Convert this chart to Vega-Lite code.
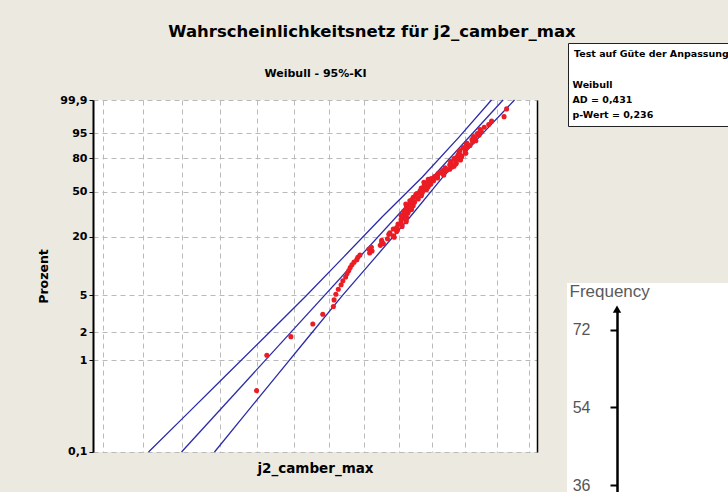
{
  "$schema": "https://vega.github.io/schema/vega-lite/v6.json",
  "width": 444,
  "height": 352,
  "autosize": {"type": "none"},
  "padding": {"left": 93, "top": 100, "right": 191, "bottom": 40},
  "background": "#ECE9E1",
  "config": {
    "view": {"fill": "white", "stroke": null},
    "font": "DejaVu Sans",
    "axis": {"labelFont": "DejaVu Sans", "titleFont": "DejaVu Sans", "gridColor": "#bababa", "gridDash": [5, 4], "gridWidth": 1}
  },
  "title": {
    "text": "Wahrscheinlichkeitsnetz für j2_camber_max",
    "anchor": "middle",
    "frame": "group",
    "dx": 57,
    "offset": 2,
    "font": "DejaVu Sans",
    "fontSize": 16.5,
    "fontWeight": "bold",
    "color": "black"
  },
  "datasets": {
    "baender": [
      {"linie": "KI oben", "z": -6.9072, "camber": 0.42147},
      {"linie": "KI oben", "z": -6, "camber": 0.43086},
      {"linie": "KI oben", "z": -5, "camber": 0.44142},
      {"linie": "KI oben", "z": -4, "camber": 0.45223},
      {"linie": "KI oben", "z": -3, "camber": 0.46325},
      {"linie": "KI oben", "z": -2, "camber": 0.47413},
      {"linie": "KI oben", "z": -1, "camber": 0.48518},
      {"linie": "KI oben", "z": 0, "camber": 0.49704},
      {"linie": "KI oben", "z": 1, "camber": 0.50812},
      {"linie": "KI oben", "z": 1.9326, "camber": 0.51816},
      {"linie": "Anpassung", "z": -6.9072, "camber": 0.42993},
      {"linie": "Anpassung", "z": 1.9326, "camber": 0.52177},
      {"linie": "KI unten", "z": -6.9072, "camber": 0.43855},
      {"linie": "KI unten", "z": -6, "camber": 0.44639},
      {"linie": "KI unten", "z": -5, "camber": 0.45521},
      {"linie": "KI unten", "z": -4, "camber": 0.46424},
      {"linie": "KI unten", "z": -3, "camber": 0.47346},
      {"linie": "KI unten", "z": -2, "camber": 0.48335},
      {"linie": "KI unten", "z": -1, "camber": 0.49343},
      {"linie": "KI unten", "z": 0, "camber": 0.50324},
      {"linie": "KI unten", "z": 1, "camber": 0.51434},
      {"linie": "KI unten", "z": 1.9326, "camber": 0.5254}
    ],
    "punkte": [
      {"z": -5.367, "camber": 0.4498},
      {"z": -4.476, "camber": 0.4526},
      {"z": -4.01, "camber": 0.4592},
      {"z": -3.692, "camber": 0.4653},
      {"z": -3.449, "camber": 0.4681},
      {"z": -3.253, "camber": 0.4711},
      {"z": -3.088, "camber": 0.4713},
      {"z": -2.945, "camber": 0.4718},
      {"z": -2.82, "camber": 0.4725},
      {"z": -2.707, "camber": 0.4733},
      {"z": -2.606, "camber": 0.4738},
      {"z": -2.513, "camber": 0.4746},
      {"z": -2.427, "camber": 0.475},
      {"z": -2.348, "camber": 0.4755},
      {"z": -2.274, "camber": 0.4759},
      {"z": -2.204, "camber": 0.4764},
      {"z": -2.139, "camber": 0.477},
      {"z": -2.077, "camber": 0.4778},
      {"z": -2.018, "camber": 0.4781},
      {"z": -1.963, "camber": 0.4787},
      {"z": -1.909, "camber": 0.4815},
      {"z": -1.86, "camber": 0.4822},
      {"z": -1.81, "camber": 0.4813},
      {"z": -1.764, "camber": 0.482},
      {"z": -1.717, "camber": 0.4846},
      {"z": -1.675, "camber": 0.4855},
      {"z": -1.632, "camber": 0.485},
      {"z": -1.592, "camber": 0.485},
      {"z": -1.552, "camber": 0.4867},
      {"z": -1.514, "camber": 0.4887},
      {"z": -1.476, "camber": 0.4884},
      {"z": -1.441, "camber": 0.4871},
      {"z": -1.405, "camber": 0.4874},
      {"z": -1.372, "camber": 0.4894},
      {"z": -1.338, "camber": 0.4896},
      {"z": -1.306, "camber": 0.4884},
      {"z": -1.273, "camber": 0.4894},
      {"z": -1.243, "camber": 0.491},
      {"z": -1.212, "camber": 0.4909},
      {"z": -1.183, "camber": 0.4898},
      {"z": -1.153, "camber": 0.4907},
      {"z": -1.125, "camber": 0.4922},
      {"z": -1.096, "camber": 0.4922},
      {"z": -1.069, "camber": 0.4907},
      {"z": -1.041, "camber": 0.491},
      {"z": -1.015, "camber": 0.4923},
      {"z": -0.989, "camber": 0.4915},
      {"z": -0.964, "camber": 0.4907},
      {"z": -0.938, "camber": 0.4921},
      {"z": -0.913, "camber": 0.4927},
      {"z": -0.888, "camber": 0.4917},
      {"z": -0.864, "camber": 0.4915},
      {"z": -0.84, "camber": 0.4931},
      {"z": -0.817, "camber": 0.4938},
      {"z": -0.793, "camber": 0.4924},
      {"z": -0.77, "camber": 0.4923},
      {"z": -0.747, "camber": 0.4938},
      {"z": -0.725, "camber": 0.4943},
      {"z": -0.703, "camber": 0.4925},
      {"z": -0.681, "camber": 0.4921},
      {"z": -0.659, "camber": 0.4936},
      {"z": -0.638, "camber": 0.4947},
      {"z": -0.617, "camber": 0.4944},
      {"z": -0.596, "camber": 0.4933},
      {"z": -0.575, "camber": 0.4939},
      {"z": -0.554, "camber": 0.4958},
      {"z": -0.533, "camber": 0.4956},
      {"z": -0.513, "camber": 0.4943},
      {"z": -0.493, "camber": 0.4951},
      {"z": -0.473, "camber": 0.4967},
      {"z": -0.453, "camber": 0.4967},
      {"z": -0.434, "camber": 0.4951},
      {"z": -0.414, "camber": 0.4954},
      {"z": -0.395, "camber": 0.497},
      {"z": -0.375, "camber": 0.4967},
      {"z": -0.356, "camber": 0.4963},
      {"z": -0.337, "camber": 0.4974},
      {"z": -0.318, "camber": 0.4983},
      {"z": -0.299, "camber": 0.4969},
      {"z": -0.281, "camber": 0.4967},
      {"z": -0.262, "camber": 0.4985},
      {"z": -0.243, "camber": 0.4988},
      {"z": -0.224, "camber": 0.4977},
      {"z": -0.206, "camber": 0.4976},
      {"z": -0.188, "camber": 0.4993},
      {"z": -0.17, "camber": 0.4996},
      {"z": -0.151, "camber": 0.4979},
      {"z": -0.133, "camber": 0.4975},
      {"z": -0.114, "camber": 0.4992},
      {"z": -0.096, "camber": 0.5004},
      {"z": -0.078, "camber": 0.4999},
      {"z": -0.06, "camber": 0.4988},
      {"z": -0.042, "camber": 0.4997},
      {"z": -0.024, "camber": 0.5016},
      {"z": -0.006, "camber": 0.5016},
      {"z": 0.013, "camber": 0.5007},
      {"z": 0.031, "camber": 0.5014},
      {"z": 0.049, "camber": 0.5035},
      {"z": 0.067, "camber": 0.5033},
      {"z": 0.085, "camber": 0.5018},
      {"z": 0.103, "camber": 0.5022},
      {"z": 0.122, "camber": 0.5036},
      {"z": 0.14, "camber": 0.5035},
      {"z": 0.158, "camber": 0.5031},
      {"z": 0.176, "camber": 0.5045},
      {"z": 0.195, "camber": 0.5053},
      {"z": 0.213, "camber": 0.504},
      {"z": 0.232, "camber": 0.5039},
      {"z": 0.25, "camber": 0.506},
      {"z": 0.269, "camber": 0.5066},
      {"z": 0.288, "camber": 0.5055},
      {"z": 0.307, "camber": 0.5053},
      {"z": 0.326, "camber": 0.5071},
      {"z": 0.346, "camber": 0.5073},
      {"z": 0.365, "camber": 0.5057},
      {"z": 0.385, "camber": 0.5056},
      {"z": 0.404, "camber": 0.5071},
      {"z": 0.424, "camber": 0.5086},
      {"z": 0.444, "camber": 0.5078},
      {"z": 0.465, "camber": 0.5066},
      {"z": 0.485, "camber": 0.5073},
      {"z": 0.507, "camber": 0.5089},
      {"z": 0.528, "camber": 0.509},
      {"z": 0.55, "camber": 0.5078},
      {"z": 0.571, "camber": 0.5083},
      {"z": 0.594, "camber": 0.5102},
      {"z": 0.616, "camber": 0.51},
      {"z": 0.64, "camber": 0.5081},
      {"z": 0.663, "camber": 0.5084},
      {"z": 0.688, "camber": 0.51},
      {"z": 0.712, "camber": 0.5099},
      {"z": 0.738, "camber": 0.5094},
      {"z": 0.763, "camber": 0.5108},
      {"z": 0.791, "camber": 0.5115},
      {"z": 0.818, "camber": 0.5104},
      {"z": 0.848, "camber": 0.5106},
      {"z": 0.877, "camber": 0.5123},
      {"z": 0.909, "camber": 0.5133},
      {"z": 0.941, "camber": 0.5121},
      {"z": 0.975, "camber": 0.5131},
      {"z": 1.012, "camber": 0.5126},
      {"z": 1.051, "camber": 0.5143},
      {"z": 1.093, "camber": 0.5138},
      {"z": 1.14, "camber": 0.515},
      {"z": 1.191, "camber": 0.5146},
      {"z": 1.249, "camber": 0.5159},
      {"z": 1.317, "camber": 0.5173},
      {"z": 1.401, "camber": 0.5182},
      {"z": 1.514, "camber": 0.5221},
      {"z": 1.709, "camber": 0.5229}
    ]
  },
  "layer": [
    {
      "layer": [
        {
          "data": {"name": "baender"},
          "mark": {"type": "line", "color": "#2b2ba8", "strokeWidth": 1.3},
          "encoding": {
            "x": {
              "field": "camber",
              "type": "quantitative",
              "scale": {"type": "log", "domain": [0.40761, 0.53256], "nice": false, "zero": false},
              "axis": {
                "orient": "bottom",
                "values": [0.41, 0.42, 0.43, 0.44, 0.45, 0.46, 0.47, 0.48, 0.49, 0.5, 0.51, 0.52, 0.53],
                "grid": true,
                "ticks": false,
                "labels": false,
                "domain": false,
                "title": "j2_camber_max",
                "titleFontSize": 13.5,
                "titleFontWeight": "bold",
                "titleColor": "black",
                "titlePadding": 9
              }
            },
            "y": {
              "field": "z",
              "type": "quantitative",
              "scale": {"domain": [-6.907255, 1.932645], "nice": false, "zero": false},
              "axis": {
                "orient": "left",
                "values": [-6.90725, -4.600149, -3.901939, -2.970195, -1.49994, -0.366513, 0.475885, 1.097189, 1.93264],
                "labelExpr": "datum.value > 1.5 ? '99,9' : datum.value > 0.8 ? '95' : datum.value > 0 ? '80' : datum.value > -1 ? '50' : datum.value > -2 ? '20' : datum.value > -3.5 ? '5' : datum.value > -4.2 ? '2' : datum.value > -5 ? '1' : '0,1'",
                "grid": true,
                "ticks": true,
                "tickSize": 4,
                "tickColor": "black",
                "domain": true,
                "domainColor": "black",
                "domainWidth": 2,
                "labelFontSize": 11,
                "labelFontWeight": "bold",
                "labelColor": "black",
                "labelPadding": 2,
                "title": "Prozent",
                "titleFontSize": 12.5,
                "titleFontWeight": "bold",
                "titleColor": "black",
                "titlePadding": 9
              }
            },
            "detail": {"field": "linie", "type": "nominal"},
            "order": {"field": "z", "type": "quantitative"}
          }
        },
        {
          "data": {"name": "punkte"},
          "mark": {"type": "point", "filled": true, "shape": "circle", "size": 26, "opacity": 1},
          "encoding": {
            "x": {
              "field": "camber",
              "type": "quantitative",
              "scale": {"type": "log", "domain": [0.40761, 0.53256], "nice": false, "zero": false},
              "axis": {
                "orient": "top",
                "title": "Weibull - 95%-KI",
                "labels": false,
                "ticks": false,
                "domain": false,
                "grid": false,
                "titlePadding": 22,
                "titleFontSize": 11,
                "titleFontWeight": "bold",
                "titleColor": "black"
              }
            },
            "y": {
              "field": "z",
              "type": "quantitative",
              "scale": {"domain": [-6.907255, 1.932645], "nice": false, "zero": false},
              "axis": {
                "orient": "right",
                "labels": false,
                "ticks": false,
                "grid": false,
                "domain": true,
                "domainColor": "black",
                "domainWidth": 1.5,
                "title": null
              }
            },
            "color": {
              "datum": "Weibull",
              "type": "nominal",
              "scale": {"range": ["#ec1c24"]},
              "legend": {
                "orient": "none",
                "legendX": 475,
                "legendY": -57,
                "title": "Test auf Güte der Anpassung",
                "titleFont": "DejaVu Sans",
                "titleFontSize": 9.5,
                "titleFontWeight": "bold",
                "titleColor": "black",
                "titlePadding": 22,
                "titleLimit": 400,
                "padding": 6,
                "fillColor": "white",
                "strokeColor": "#222222",
                "values": ["Weibull", "AD = 0,431", "p-Wert = 0,236"],
                "symbolSize": 0,
                "symbolOpacity": 0,
                "symbolStrokeWidth": 0,
                "rowPadding": 4,
                "labelFont": "DejaVu Sans",
                "labelFontSize": 9.5,
                "labelFontWeight": "bold",
                "labelColor": "black",
                "labelOffset": -11,
                "labelLimit": 400
              }
            }
          }
        }
      ],
      "resolve": {"axis": {"x": "independent", "y": "independent"}}
    },
    {
      "data": {"values": [{"ansicht": "Frequency"}]},
      "layer": [
        {
          "mark": {"type": "rect", "color": "white"},
          "encoding": {
            "x": {"datum": -1, "type": "quantitative", "scale": {"domain": [-1, 4], "range": [474, 724], "nice": false, "zero": false}, "axis": null},
            "x2": {"datum": 4},
            "y": {
              "datum": 82.86,
              "type": "quantitative",
              "scale": {"domain": [34.4, 76.6], "range": [392, 210], "nice": false, "zero": false},
              "axis": {
                "orient": "left",
                "offset": -524,
                "values": [36, 54, 72],
                "domain": true,
                "domainColor": "black",
                "domainWidth": 2.5,
                "ticks": true,
                "tickColor": "black",
                "tickSize": 7,
                "tickWidth": 2,
                "labels": true,
                "labelColor": "#555555",
                "labelFont": "Liberation Sans",
                "labelFontSize": 16,
                "labelPadding": 20,
                "grid": false,
                "title": "Frequency",
                "titleAngle": 0,
                "titleX": -48,
                "titleY": 196,
                "titleAlign": "left",
                "titleBaseline": "alphabetic",
                "titleColor": "#5a5a5a",
                "titleFont": "Liberation Sans",
                "titleFontSize": 17,
                "titleFontWeight": "normal",
                "zindex": 2
              }
            },
            "y2": {"datum": 30}
          }
        },
        {
          "mark": {"type": "point", "shape": "triangle-up", "filled": true, "color": "black", "size": 70, "opacity": 1},
          "encoding": {
            "x": {"datum": 0, "type": "quantitative"},
            "y": {"datum": 76.8, "type": "quantitative"}
          }
        }
      ]
    }
  ],
  "resolve": {"scale": {"x": "independent", "y": "independent"}, "axis": {"x": "independent", "y": "independent"}}
}
